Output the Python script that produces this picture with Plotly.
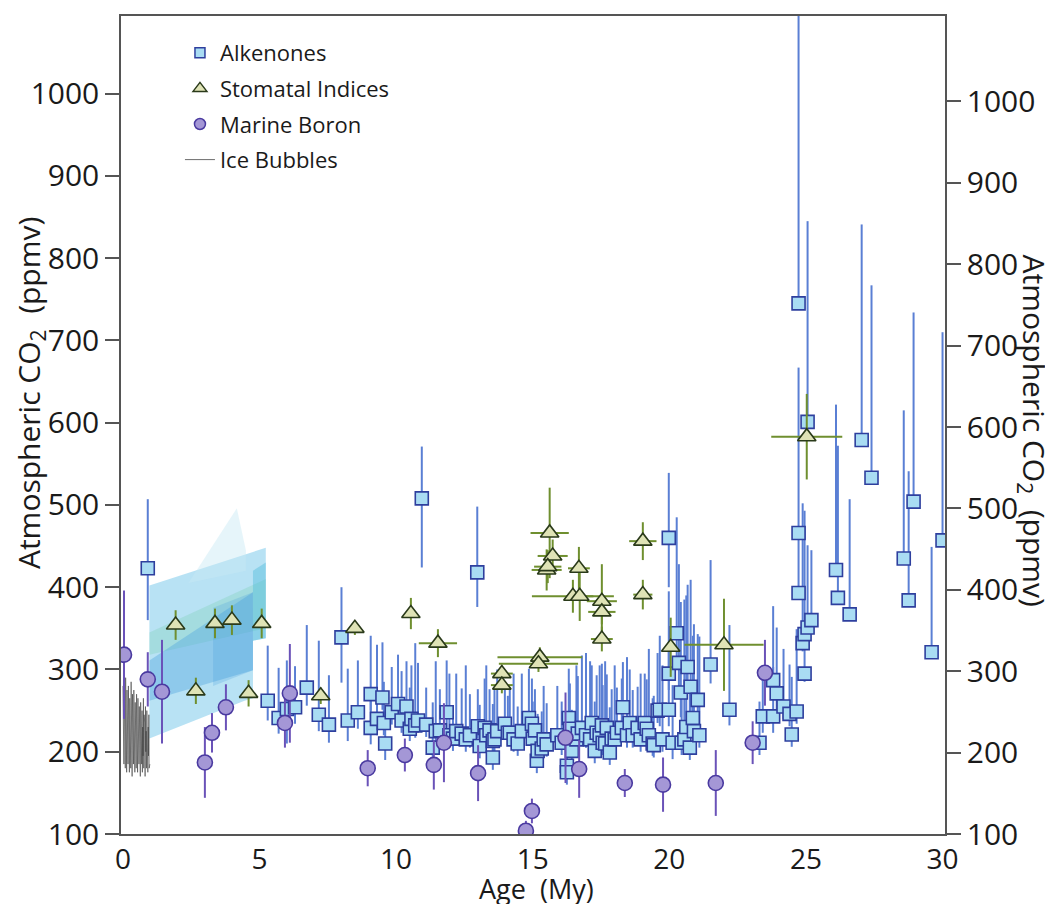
import plotly.graph_objects as go

# ---------------- data ----------------
# Alkenones: age (My), CO2 (ppmv), upper error, lower error
alk_age = [0.91, 5.30, 5.70, 6.00, 6.30, 6.73, 7.17, 7.54, 8.00, 8.23, 8.60, 9.07, 9.07, 9.30, 9.50, 9.55, 9.60,
           9.84, 10.07, 10.20, 10.38, 10.50, 10.56, 10.70, 10.80, 10.94, 11.10, 11.34, 11.45, 11.60, 11.85, 11.95,
           12.08, 12.20, 12.40, 12.55, 12.70, 12.97, 12.99, 13.06, 13.24, 13.30, 13.42, 13.54, 13.54, 13.60, 13.70,
           13.98, 14.09, 14.16, 14.30, 14.45, 14.60, 14.86, 14.97, 15.00, 15.08, 15.15, 15.18, 15.33, 15.40, 15.51,
           15.90, 16.06, 16.25, 16.25, 16.32, 16.36, 16.43, 16.60, 16.65, 16.80, 16.95, 17.10, 17.16, 17.27, 17.34,
           17.45, 17.53, 17.56, 17.65, 17.71, 17.82, 17.89, 18.00, 18.08, 18.26, 18.30, 18.45, 18.55, 18.66, 18.84,
           18.95, 19.10, 19.17, 19.25, 19.39, 19.43, 19.57, 19.65, 19.75, 19.98, 19.98, 19.98, 20.12, 20.27, 20.35,
           20.42, 20.45, 20.55, 20.62, 20.67, 20.75, 20.78, 20.86, 20.90, 21.04, 21.10, 21.51, 22.20, 23.30, 23.42,
           23.80, 23.80, 23.93, 24.18, 24.40, 24.48, 24.66, 24.73, 24.73, 24.73, 24.88, 24.95, 24.95, 25.06, 25.06,
           25.20, 26.10, 26.17, 26.60, 27.04, 27.40, 28.58, 28.76, 28.94, 29.60, 30.00]
alk_co2 = [423, 262, 241, 252, 254, 278, 245, 233, 339, 238, 248, 270, 229, 240, 266, 235, 210,
           248, 258, 238, 255, 228, 240, 232, 238, 508, 233, 205, 225, 226, 248, 220,
           216, 225, 222, 215, 220, 418, 231, 207, 229, 220, 226, 193, 213, 215, 225,
           234, 223, 223, 215, 210, 225, 241, 234, 216, 226, 189, 201, 204, 215, 209,
           220, 211, 183, 175, 241, 228, 201, 215, 222, 229, 220, 215, 235, 201, 223,
           220, 232, 211, 210, 229, 199, 216, 215, 223, 229, 254, 220, 235, 220, 229,
           215, 235, 228, 220, 210, 208, 250, 251, 215, 460, 295, 251, 211, 344, 308,
           272, 211, 215, 230, 303, 205, 279, 241, 225, 263, 220, 306, 251, 211, 243,
           287, 243, 271, 255, 246, 221, 249, 745, 466, 393, 332, 295, 343, 351, 601,
           360, 421, 387, 367, 579, 533, 435, 384, 504, 321, 457]
alk_up = [84, 67, 61, 59, 50, 76, 90, 60, 61, 63, 63, 71, 40, 90, 67, 50, 40,
          55, 60, 60, 55, 50, 65, 100, 70, 63, 45, 55, 85, 50, 63, 75,
          40, 70, 55, 90, 50, 80, 45, 50, 60, 85, 50, 40, 45, 60, 75,
          50, 45, 55, 80, 45, 70, 60, 55, 45, 50, 50, 45, 45, 65, 50,
          60, 50, 60, 50, 60, 55, 50, 90, 70, 88, 100, 95, 70, 60, 70,
          85, 75, 70, 100, 65, 55, 60, 90, 55, 60, 55, 95, 65, 55, 50,
          80, 60, 60, 105, 55, 60, 70, 90, 90, 79, 100, 80, 70, 141, 120,
          110, 60, 170, 160, 100, 70, 130, 100, 130, 80, 120, 127, 103, 50, 60,
          90, 60, 80, 70, 60, 70, 100, 400, 201, 75, 170, 60, 150, 100, 244,
          85, 201, 185, 140, 262, 234, 180, 157, 230, 128, 253]
alk_dn = [63, 24, 19, 42, 20, 22, 20, 22, 55, 25, 20, 20, 20, 20, 15, 15, 20,
          15, 20, 15, 20, 15, 20, 15, 15, 84, 15, 20, 15, 15, 20, 15,
          15, 15, 15, 15, 15, 42, 15, 15, 15, 15, 15, 15, 15, 15, 15,
          15, 15, 15, 15, 15, 15, 15, 15, 15, 15, 15, 15, 15, 15, 15,
          15, 15, 15, 15, 15, 15, 15, 15, 15, 15, 15, 15, 15, 15, 15,
          15, 15, 15, 15, 15, 15, 15, 15, 15, 15, 15, 15, 15, 15, 15,
          15, 15, 15, 15, 15, 15, 15, 20, 15, 60, 20, 20, 20, 40, 30,
          30, 15, 15, 15, 30, 15, 30, 20, 15, 20, 15, 23, 19, 15, 20,
          20, 20, 20, 15, 15, 15, 15, 0, 0, 0, 10, 10, 10, 10, 0,
          10, 0, 0, 0, 0, 0, 0, 0, 0, 0, 0]

# Stomatal indices: age, CO2, vertical error, horizontal (age) error
sto_age = [1.93, 2.67, 3.37, 3.99, 4.60, 5.08, 7.24, 8.49, 10.54, 11.53, 13.87, 13.87, 15.26, 15.21, 15.62,
           15.73, 15.51, 15.55, 16.47, 16.72, 16.69, 17.53, 17.53, 17.53, 19.03, 19.03, 20.05, 22.00, 25.03]
sto_co2 = [354, 274, 356, 360, 271, 356, 268, 350, 368, 332, 295, 281, 315, 307, 466,
           438, 421, 425, 389, 389, 423, 383, 370, 337, 456, 391, 327, 330, 583]
sto_ey = [18, 16, 18, 18, 16, 18, 10, 8, 19, 17, 10, 10, 12, 10, 55,
          20, 25, 20, 20, 30, 26, 45, 15, 15, 23, 18, 36, 56, 52]
sto_ex = [0, 0, 0, 0, 0, 0, 0, 0, 0, 0.7, 0.4, 0.4, 1.55, 1.45, 0.7,
          0.55, 0.55, 0.5, 1.5, 0.5, 0.4, 0.55, 0.5, 0.4, 0.5, 0.35, 0, 1.45, 1.3]

# Marine boron: age, CO2, error
bor_age = [0.04, 0.91, 1.43, 3.00, 3.26, 3.77, 5.93, 6.11, 8.96, 10.32, 11.38, 11.75, 13.00, 14.75, 14.97,
           16.20, 16.70, 18.37, 19.77, 21.70, 23.05, 23.50]
bor_co2 = [318, 288, 273, 187, 223, 254, 235, 271, 180, 196, 184, 211, 174, 104, 128,
           217, 179, 162, 160, 162, 211, 296]
bor_err = [78, 33, 63, 43, 24, 28, 30, 60, 22, 20, 30, 48, 34, 12, 15,
           55, 35, 17, 33, 40, 26, 40]

# Ice bubbles (ice-core record, 0-1 My)
ice_age = [0.000, 0.012, 0.025, 0.037, 0.050, 0.062, 0.075, 0.087, 0.100, 0.112, 0.125, 0.137, 0.150, 0.162,
           0.175, 0.187, 0.200, 0.212, 0.225, 0.237, 0.250, 0.262, 0.275, 0.287, 0.300, 0.312, 0.325, 0.337,
           0.350, 0.362, 0.375, 0.387, 0.400, 0.412, 0.425, 0.437, 0.450, 0.462, 0.475, 0.487, 0.500, 0.512,
           0.525, 0.537, 0.550, 0.562, 0.575, 0.587, 0.600, 0.612, 0.625, 0.637, 0.650, 0.662, 0.675, 0.687,
           0.700, 0.712, 0.725, 0.737, 0.750, 0.762, 0.775, 0.787, 0.800, 0.812, 0.825, 0.837, 0.850, 0.862,
           0.875, 0.887, 0.900, 0.912, 0.925, 0.937, 0.950, 0.962, 0.975, 0.987]
ice_co2 = [280, 190, 270, 185, 285, 200, 260, 180, 290, 195, 240, 175, 275, 205, 250, 185, 280, 190, 230, 175,
           265, 200, 245, 180, 285, 195, 255, 170, 270, 210, 235, 185, 275, 190, 250, 175, 260, 200, 240, 180,
           270, 195, 225, 175, 265, 205, 245, 185, 255, 180, 235, 170, 260, 200, 240, 185, 250, 175, 230, 195,
           265, 180, 245, 190, 235, 170, 255, 200, 225, 180, 250, 190, 240, 175, 230, 195, 245, 180, 235, 185]

# Pliocene reconstruction envelopes (polygon outlines: age, CO2)
env_light_age = [0.97, 0.97, 5.23, 5.23, 4.76, 4.76, 4.45]
env_light_co2 = [216, 402, 448, 338, 335, 265, 262]
env_faint_age = [2.4, 4.17, 4.5, 4.5]
env_faint_co2 = [405, 496, 445, 420]
env_green_age = [0.97, 0.97, 5.23, 5.23]
env_green_co2 = [318, 345, 410, 350]
env_mid_age = [0.97, 0.97, 4.76, 4.76]
env_mid_co2 = [262, 311, 394, 299]
env_dark_age = [3.3, 3.3, 4.76, 4.76]
env_dark_co2 = [280, 375, 394, 299]
env_cyan_age = [4.76, 4.76, 5.23, 5.23]
env_cyan_co2 = [335, 420, 430, 338]

y_ticks = [100, 200, 300, 400, 500, 600, 700, 800, 900, 1000]
x_ticks = [0, 5, 10, 15, 20, 25, 30]

FONT = "Open Sans"
TXT = "#1a1a1a"

# plot-area geometry (px); page body adds an 8 px offset
PL, PT, PW, PH = 113, 8, 824.5, 818

def px(xp):  # reference x pixel -> paper x
    return (xp - 121) / PW

def py(yp):  # reference y pixel -> paper y
    return (833 - yp) / PH

ALK = dict(fill="#a9dcf3", line="#2e3f9e", bar="#5a7fd4")
STO = dict(fill="#dfe3b6", line="#2a3a1a", bar="#6f8f2f")
BOR = dict(fill="#a497d6", line="#4a3aa0", bar="#6a52b8")
ICE = "rgba(60,60,60,0.75)"

fig = go.Figure()

def band(ax, ay, color):
    fig.add_trace(go.Scatter(x=ax, y=ay, fill="toself", fillcolor=color, mode="lines",
                             line=dict(width=0), hoverinfo="skip", showlegend=False))

band(env_light_age, env_light_co2, "rgba(160,216,240,0.75)")
band(env_faint_age, env_faint_co2, "rgba(200,232,244,0.45)")
band(env_green_age, env_green_co2, "rgba(120,205,175,0.30)")
band(env_mid_age, env_mid_co2, "rgba(80,165,222,0.40)")
band(env_dark_age, env_dark_co2, "rgba(60,150,218,0.22)")
band(env_cyan_age, env_cyan_co2, "rgba(70,185,218,0.40)")

fig.add_trace(go.Scatter(x=ice_age, y=ice_co2, mode="lines", showlegend=False,
                         line=dict(color=ICE, width=0.8)))

fig.add_trace(go.Scatter(
    x=alk_age, y=alk_co2, mode="markers", showlegend=False,
    marker=dict(symbol="square", size=13, color=ALK["fill"], line=dict(color=ALK["line"], width=1.6)),
    error_y=dict(type="data", symmetric=False, array=alk_up, arrayminus=alk_dn,
                 color=ALK["bar"], thickness=2, width=0)))

fig.add_trace(go.Scatter(
    x=bor_age, y=bor_co2, mode="markers", showlegend=False,
    marker=dict(symbol="circle", size=15, color=BOR["fill"], line=dict(color=BOR["line"], width=1.6)),
    error_y=dict(type="data", array=bor_err, color=BOR["bar"], thickness=2, width=0)))

fig.add_trace(go.Scatter(
    x=sto_age, y=sto_co2, mode="markers", showlegend=False,
    marker=dict(symbol="triangle-up", size=16, color=STO["fill"], line=dict(color=STO["line"], width=1.6)),
    error_y=dict(type="data", array=sto_ey, color=STO["bar"], thickness=2, width=0),
    error_x=dict(type="data", array=sto_ex, color=STO["bar"], thickness=2, width=0)))

# legend entries (small symbols, as in the original key)
fig.add_trace(go.Scatter(x=[None], y=[None], mode="markers", name="Alkenones", legendgroup="a",
                         marker=dict(symbol="square", size=10, color=ALK["fill"],
                                     line=dict(color=ALK["line"], width=1.5))))
fig.add_trace(go.Scatter(x=[None], y=[None], mode="markers", name="Stomatal Indices", legendgroup="b",
                         marker=dict(symbol="triangle-up", size=12, color=STO["fill"],
                                     line=dict(color=STO["line"], width=1.5))))
fig.add_trace(go.Scatter(x=[None], y=[None], mode="markers", name="Marine Boron", legendgroup="c",
                         marker=dict(symbol="circle", size=11, color=BOR["fill"],
                                     line=dict(color=BOR["line"], width=1.5))))
fig.add_trace(go.Scatter(x=[None], y=[None], mode="lines", name="Ice Bubbles", legendgroup="d",
                         line=dict(color=ICE, width=1)))

# invisible trace carrying the right-hand axis
fig.add_trace(go.Scatter(x=[None], y=[None], yaxis="y2", showlegend=False, hoverinfo="skip"))

axis_font = dict(family=FONT, size=30, color=TXT)
title_font = dict(family=FONT, size=30, color=TXT)

fig.update_layout(
    width=1053, height=904,
    margin=dict(l=PL, r=1053 - PL - PW, t=PT, b=904 - PT - PH, autoexpand=False),
    paper_bgcolor="white", plot_bgcolor="white",
    font=dict(family=FONT, color=TXT),
    showlegend=True,
    legend=dict(x=px(180), y=py(31), xanchor="left", yanchor="top", bgcolor="rgba(0,0,0,0)",
                font=dict(family=FONT, size=22, color=TXT), tracegroupgap=4,
                traceorder="grouped", itemwidth=30),
    xaxis=dict(range=[-0.07, 30.09], tickvals=x_ticks, ticks="", showgrid=False, zeroline=False,
               showline=True, linecolor="#555", linewidth=1.5, mirror=True,
               tickfont=dict(family=FONT, size=28, color=TXT), ticklabelstandoff=0),
    yaxis=dict(range=[100, 1094.4], tickvals=y_ticks, ticks="outside", ticklen=14, tickwidth=1.5,
               tickcolor="#555", showgrid=False, zeroline=False, showline=True, linecolor="#555",
               linewidth=1.5, tickfont=axis_font, ticklabelstandoff=0),
    yaxis2=dict(range=[100, 1105], tickvals=y_ticks, overlaying="y", side="right", ticks="outside",
                ticklen=14, tickwidth=1.5, tickcolor="#555", showgrid=False, zeroline=False,
                showline=True, linecolor="#555", linewidth=1.5, tickfont=axis_font,
                ticklabelstandoff=0),
    annotations=[
        dict(text="Atmospheric CO<sub>2</sub>  (ppmv)", xref="paper", yref="paper",
             x=px(30), y=py(392), textangle=-90, showarrow=False,
             font=title_font, xanchor="center", yanchor="middle"),
        dict(text="Atmospheric CO<sub>2</sub>  (ppmv)", xref="paper", yref="paper",
             x=px(1034), y=py(430), textangle=90, showarrow=False,
             font=title_font, xanchor="center", yanchor="middle"),
        dict(text="Age  (My)", xref="paper", yref="paper",
             x=px(537), y=py(887), showarrow=False,
             font=dict(family=FONT, size=27, color=TXT), xanchor="center", yanchor="middle"),
    ],
)

fig.write_html("out.html")
